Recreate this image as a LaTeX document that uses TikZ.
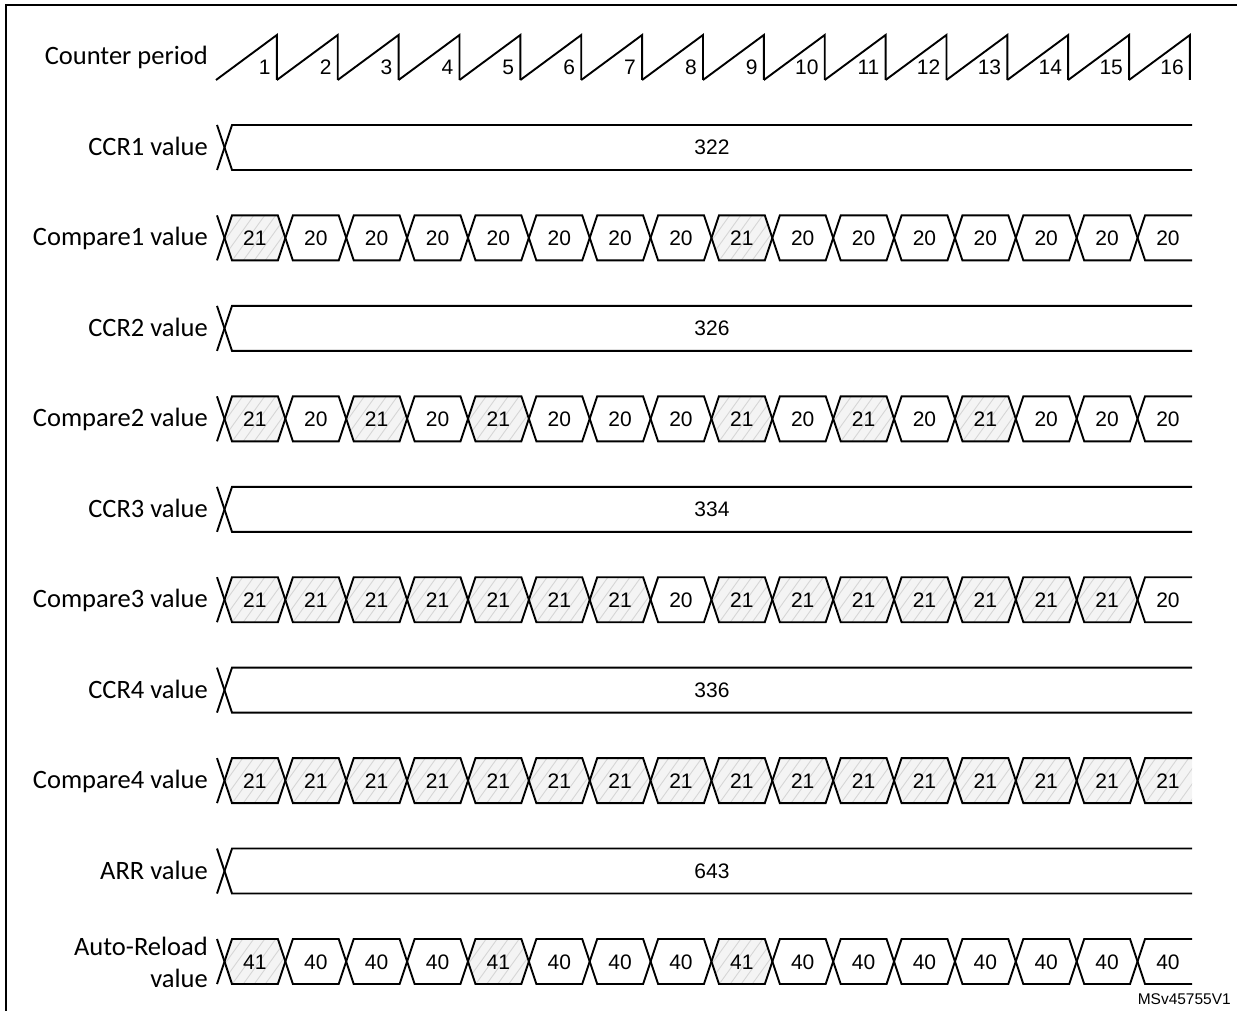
\documentclass[tikz,border=0pt]{standalone}
\usepackage{fontspec}
\setmainfont{Carlito}
\newfontfamily\arialf{Liberation Sans}
\tikzset{
  lbl/.style={anchor=base east, inner sep=0pt, font=\fontsize{26.5}{32}\selectfont},
  num/.style={anchor=base, inner sep=0pt, font=\arialf\fontsize{21}{25}\selectfont},
  cnum/.style={anchor=base east, inner sep=0pt, font=\arialf\fontsize{21}{25}\selectfont},
  sig/.style={line width=1.9pt, line join=miter},
  hatchfill/.style={fill=gray!9},
  hatchline/.style={draw=gray!32, line width=0.9pt},
}
\newcommand\hexrow[3]{% #1 row name, #2 centre y, #3 list of values
  \foreach \v [count=\k from 0] in {#3} {
    \pgfmathsetmacro\ca{224.5+\k*60.87}
    \pgfmathsetmacro\cb{\ca+60.87}
    \ifnum\k<15
      \ifodd\v
        \begin{scope}
          \clip (\ca,#2) -- (\ca+7.5,#2-22.5) -- (\cb-7.5,#2-22.5) -- (\cb,#2) -- (\cb-7.5,#2+22.5) -- (\ca+7.5,#2+22.5) -- cycle;
          \fill[hatchfill] (\ca-5,#2-30) rectangle (\cb+5,#2+30);
          \foreach \h in {-60,-49,...,80} \draw[hatchline] (\ca+\h,#2+25) -- ++(36,-50);
        \end{scope}
      \fi
      \draw[sig] (\ca,#2) -- (\ca+7.5,#2-22.5) -- (\cb-7.5,#2-22.5) -- (\cb,#2) -- (\cb-7.5,#2+22.5) -- (\ca+7.5,#2+22.5) -- cycle;
    \else
      \ifodd\v
        \begin{scope}
          \clip (\ca,#2) -- (\ca+7.5,#2-22.5) -- (1192,#2-22.5) -- (1192,#2+22.5) -- (\ca+7.5,#2+22.5) -- cycle;
          \fill[hatchfill] (\ca-5,#2-30) rectangle (1195,#2+30);
          \foreach \h in {-60,-49,...,80} \draw[hatchline] (\ca+\h,#2+25) -- ++(36,-50);
        \end{scope}
      \fi
      \draw[sig] (1192,#2-22.5) -- (\ca+7.5,#2-22.5) -- (\ca,#2) -- (\ca+7.5,#2+22.5) -- (1192,#2+22.5);
    \fi
    \node[num] (#1-\k) at (\ca+30.4,#2+7.5) {\v};
  }
  \draw[sig] (217,#2-22.5) -- (224.5,#2) -- (217,#2+22.5);
}
\newcommand\busrow[3]{% #1 name, #2 centre y, #3 value
  \draw[sig] (217,#2-22.5) -- (232,#2+22.5) -- (1192,#2+22.5);
  \draw[sig] (217,#2+22.5) -- (232,#2-22.5) -- (1192,#2-22.5);
  \node[num] (#1) at (712,#2+7.5) {#3};
}
\begin{document}
\begin{tikzpicture}[x=1pt,y=-1pt]
\useasboundingbox (0,0) rectangle (1237,1011);
\draw[line width=2pt] (1240,5) -- (6,5) -- (6,1015);

% Counter period
\node[lbl] (lcnt) at (208,65) {Counter period};
\foreach \i in {1,...,16} {
  \pgfmathsetmacro\p{216+\i*60.87}
  \draw[sig] (\p-60.87,80) -- (\p,35) -- (\p,80);
  \node[cnum] (cnt-\i) at (\p-6,74.5) {\i};
}

% rows
\node[lbl] (l1) at (208,155.5) {CCR1 value};
\busrow{ccr1}{147.5}{322}
\node[lbl] (l2) at (208,245.9) {Compare1 value};
\hexrow{cmpA}{237.9}{21,20,20,20,20,20,20,20,21,20,20,20,20,20,20,20}
\node[lbl] (l3) at (208,336.4) {CCR2 value};
\busrow{ccr2}{328.4}{326}
\node[lbl] (l4) at (208,426.8) {Compare2 value};
\hexrow{cmpB}{418.8}{21,20,21,20,21,20,20,20,21,20,21,20,21,20,20,20}
\node[lbl] (l5) at (208,517.3) {CCR3 value};
\busrow{ccr3}{509.3}{334}
\node[lbl] (l6) at (208,607.7) {Compare3 value};
\hexrow{cmpC}{599.7}{21,21,21,21,21,21,21,20,21,21,21,21,21,21,21,20}
\node[lbl] (l7) at (208,698.1) {CCR4 value};
\busrow{ccr4}{690.1}{336}
\node[lbl] (l8) at (208,788.6) {Compare4 value};
\hexrow{cmpD}{780.6}{21,21,21,21,21,21,21,21,21,21,21,21,21,21,21,21}
\node[lbl] (l9) at (208,879) {ARR value};
\busrow{arr}{871.0}{643}
\node[lbl] (l10a) at (208,955) {Auto-Reload};
\node[lbl] (l10b) at (208,987) {value};
\hexrow{arv}{961.5}{41,40,40,40,41,40,40,40,41,40,40,40,40,40,40,40}

\node[anchor=base east, inner sep=0pt, font=\arialf\fontsize{15.5}{18}\selectfont] (id) at (1231,1004) {MSv45755V1};
\end{tikzpicture}
\end{document}
